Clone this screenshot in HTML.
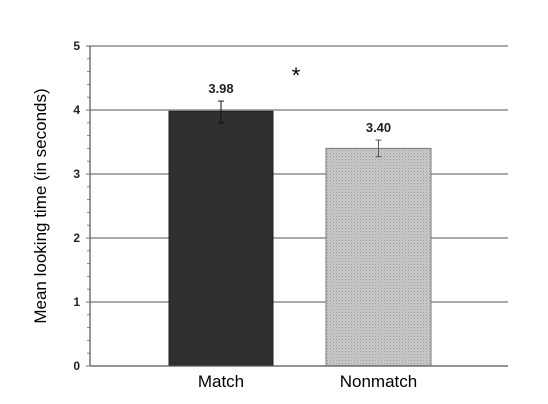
<!DOCTYPE html>
<html><head><meta charset="utf-8"><style>body{margin:0;background:#fff}svg{display:block;font-family:"Liberation Sans",Arial,sans-serif}</style></head>
<body>
<svg id="c" width="548" height="404">
<defs><pattern id="dots" width="3" height="3" patternUnits="userSpaceOnUse"><rect width="3" height="3" fill="#cacaca"/><rect width="1" height="1" fill="#999"/><rect x="1.5" y="1.5" width="1" height="1" fill="#aaa"/></pattern></defs>
</svg>
<script>
const categories=["Match","Nonmatch"];
const values=[3.98,3.40];
const errLow=[3.80,3.27];
const errHigh=[4.14,3.53];
const valueLabels=["3.98","3.40"];
const yTicks=[0,1,2,3,4,5];
const NS="http://www.w3.org/2000/svg";
const svg=document.getElementById('c');
const x0=90,x1=508,yb=366,yt=46,ymax=5;
const y=v=>yb-(yb-yt)*v/ymax;
const barX=[169,326],barW=[104,105];
function mk(t,a,p){const e=document.createElementNS(NS,t);for(const k in a)e.setAttribute(k,a[k]);(p||svg).appendChild(e);return e;}
yTicks.forEach(t=>{
 if(t>0){const g=mk('line',{x1:x0,x2:x1,y1:y(t),y2:y(t),stroke:'#777','stroke-width':1.3});
 
 }
 const lb=mk('text',{x:80,y:y(t)+4,'text-anchor':'end','font-size':12,'font-weight':'bold','fill':'#222'});lb.textContent=t;
 
 
 mk('line',{x1:x0-4,x2:x0,y1:y(t),y2:y(t),stroke:'#666'});
});
for(let v=0;v<ymax;v+=0.2){mk('line',{x1:x0-3,x2:x0,y1:y(v),y2:y(v),stroke:'#888'});}
const fills=['#303030','url(#dots)'];
categories.forEach((c,i)=>{
 const r=mk('rect',{x:barX[i],y:y(values[i]),width:barW[i],height:yb-y(values[i]),fill:fills[i],stroke:i?'#777':'#222','stroke-width':1});
 
 
 const cx=barX[i]+barW[i]/2;
 const e=mk('g',{stroke:i?'#555':'#111','stroke-width':1});
 
 
 mk('line',{x1:cx,x2:cx,y1:y(errHigh[i]),y2:y(errLow[i])},e);
 mk('line',{x1:cx-3,x2:cx+3,y1:y(errHigh[i]),y2:y(errHigh[i])},e);
 mk('line',{x1:cx-3,x2:cx+3,y1:y(errLow[i]),y2:y(errLow[i])},e);
 const vl=mk('text',{x:cx,y:y(errHigh[i])-8,'text-anchor':'middle','font-size':13,'font-weight':'bold','fill':'#222'});vl.textContent=valueLabels[i];
 
 
 const cl=mk('text',{x:cx,y:387,'text-anchor':'middle','font-size':17});cl.textContent=c;
 
 
});
mk('line',{x1:x0,x2:x0,y1:yt,y2:yb,stroke:'#555','stroke-width':1.2});
mk('line',{x1:x0,x2:x1,y1:yb,y2:yb,stroke:'#555','stroke-width':1.2});
const st=mk('text',{x:296,y:83,'text-anchor':'middle','font-size':22});st.textContent='*';


const yt2=mk('text',{x:0,y:0,'text-anchor':'middle','font-size':17,transform:'translate(46,206) rotate(-90)'});yt2.textContent='Mean looking time (in seconds)';


</script>
</body></html>
